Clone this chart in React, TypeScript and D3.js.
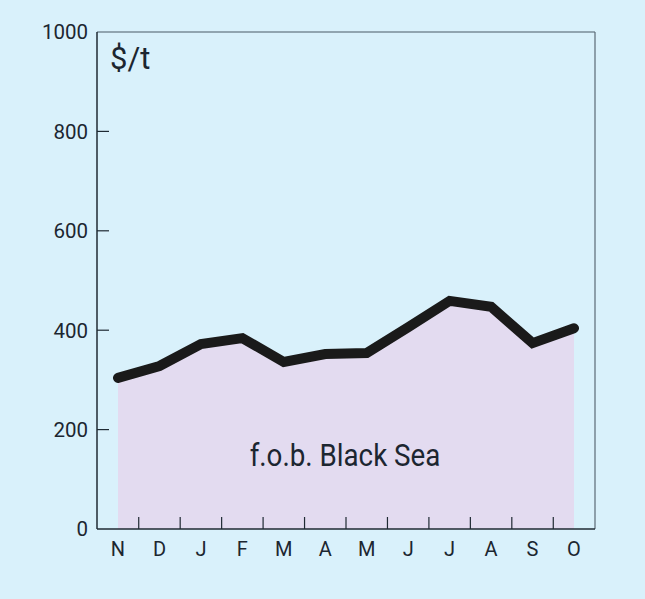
import React from "react";
import * as d3 from "d3";

const months = ["N", "D", "J", "F", "M", "A", "M", "J", "J", "A", "S", "O"];
const prices = [304, 328, 372, 384, 336, 352, 354, 406, 459, 447, 374, 404];
const yTicks = [0, 200, 400, 600, 800, 1000];
const unitLabel = "$/t";
const seriesLabel = "f.o.b. Black Sea";

const W = 645;
const H = 599;
const left = 97;
const right = 595;
const top = 32;
const bottom = 529;
const FONT = "'Roboto', 'Liberation Sans', sans-serif";

export default function App() {
  const idx = months.map((_, i) => i);
  const x = d3.scaleLinear().domain([0, months.length - 1]).range([118, 574]);
  const y = d3.scaleLinear().domain([0, 1000]).range([bottom, top]);
  const area = d3
    .area<number>()
    .x((d) => x(d))
    .y0(y(0))
    .y1((d) => y(prices[d]));
  const line = d3
    .line<number>()
    .x((d) => x(d))
    .y((d) => y(prices[d]));
  const step = x(1) - x(0);
  const sepTicks = idx.slice(0, -1).map((i) => x(i) + step / 2);

  return (
    <svg
      width={W}
      height={H}
      style={{ position: "absolute", left: 0, top: 0, display: "block" }}
    >
      <rect x={0} y={0} width={W} height={H} fill="#d9f1fb" />
      <path d={area(idx) || ""} fill="#e3dbf0" />
      <line x1={left} y1={top} x2={right} y2={top} stroke="#4a5a66" strokeWidth={1.2} />
      <line x1={right} y1={top} x2={right} y2={bottom} stroke="#5a6a76" strokeWidth={1.2} />
      <line x1={left} y1={top} x2={left} y2={bottom} stroke="#1f2a33" strokeWidth={1.5} />
      <line x1={left} y1={bottom} x2={right} y2={bottom} stroke="#1f2a33" strokeWidth={1.5} />
      {yTicks.map((t) => (
        <g key={t}>
          {t > 0 && t < 1000 && (
            <line x1={left} x2={left + 12} y1={y(t)} y2={y(t)} stroke="#1f2a33" strokeWidth={1.2} />
          )}
          <text
            x={left - 9}
            y={y(t)}
            dy="0.36em"
            textAnchor="end"
            fontFamily={FONT}
            fontSize={20.5}
            fill="#1c2630"
          >
            {t}
          </text>
        </g>
      ))}
      {sepTicks.map((sx, i) => (
        <line key={i} x1={sx} x2={sx} y1={bottom} y2={bottom - 12} stroke="#1f2a33" strokeWidth={1.2} />
      ))}
      {months.map((m, i) => (
        <text
          key={i}
          x={x(i)}
          y={555.5}
          textAnchor="middle"
          fontFamily={FONT}
          fontSize={20}
          fill="#1c2630"
        >
          {m}
        </text>
      ))}
      <path
        d={line(idx) || ""}
        fill="none"
        stroke="#1a1a1a"
        strokeWidth={10}
        strokeLinejoin="miter"
        strokeLinecap="round"
      />
      <text x={110} y={69} fontFamily={FONT} fontSize={31} fill="#1c2630">
        {unitLabel}
      </text>
      <g transform="translate(345,466) scale(0.91,1)">
        <text x={0} y={0} textAnchor="middle" fontFamily={FONT} fontSize={30.5} fill="#1c2630">
          {seriesLabel}
        </text>
      </g>
    </svg>
  );
}
